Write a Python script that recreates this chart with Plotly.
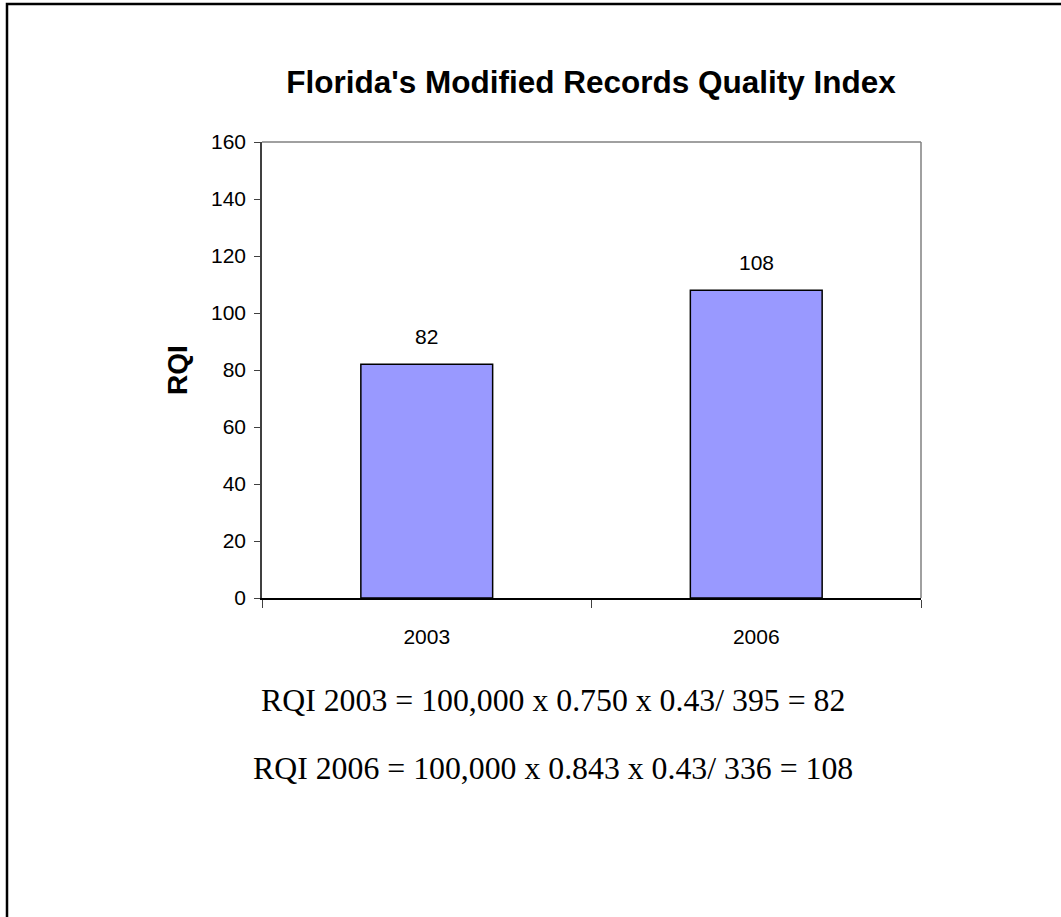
import plotly.graph_objects as go

years = ["2003", "2006"]
rqi = [82, 108]
y_ticks = [0, 20, 40, 60, 80, 100, 120, 140, 160]
formulas = [
    "RQI 2003 = 100,000 x 0.750 x 0.43/ 395 = 82",
    "RQI 2006 = 100,000 x 0.843 x 0.43/ 336 = 108",
]
title_text = "Florida's Modified Records Quality Index"
y_title = "RQI"

W, H = 1061, 917
L, R, T, B = 262, 921, 142, 598

def px_x(p):
    return (p - L) / (R - L)

def px_y(p):
    return (B - p) / (B - T)

fig = go.Figure()
fig.add_trace(go.Bar(
    x=years, y=rqi,
    marker=dict(color="#9999FF", line=dict(color="black", width=1.5)),
    width=0.4, showlegend=False, hoverinfo="skip",
))

for i, v in enumerate(rqi):
    fig.add_annotation(x=i, y=v, text=str(v), showarrow=False,
                       yanchor="bottom", yshift=14,
                       font=dict(family="Liberation Sans", size=21, color="black"))

for i, f in enumerate(formulas):
    fig.add_annotation(xref="paper", yref="paper", x=px_x(553), y=px_y(700 + 68 * i),
                       text=f, showarrow=False, xanchor="center", yanchor="middle",
                       font=dict(family="Liberation Serif", size=31.8, color="black"))

fig.add_annotation(xref="paper", yref="paper", x=px_x(177), y=px_y(370),
                   text="<b>%s</b>" % y_title, textangle=-90, showarrow=False,
                   xanchor="center", yanchor="middle",
                   font=dict(family="Liberation Sans", size=28, color="black"))

# plot-area top and right border (gray)
fig.add_shape(type="line", xref="paper", yref="paper", x0=0, x1=1, y0=1, y1=1,
              line=dict(color="#808080", width=1.5))
fig.add_shape(type="line", xref="paper", yref="paper", x0=1, x1=1, y0=0, y1=1,
              line=dict(color="#808080", width=1.5))

# outer frame (top and left visible)
fig.add_shape(type="rect", xref="paper", yref="paper",
              x0=px_x(7), x1=px_x(1075), y0=px_y(4), y1=px_y(935),
              line=dict(color="black", width=2.5), fillcolor="rgba(0,0,0,0)")

fig.update_layout(
    width=W, height=H,
    margin=dict(l=L, r=W - R, t=T, b=H - B, pad=0),
    paper_bgcolor="white", plot_bgcolor="white",
    title=dict(text="<b>%s</b>" % title_text, x=591 / W, xanchor="center",
               y=1 - 82 / H, yanchor="middle", yref="container",
               font=dict(family="Liberation Sans", size=31.5, color="black")),
    xaxis=dict(
        type="category", range=[-0.5, 1.5],
        showline=True, linecolor="black", linewidth=1.5,
        ticks="outside", ticklen=8, tickcolor="#404040", tickwidth=1,
        tickson="boundaries", showgrid=False, zeroline=False,
        tickfont=dict(family="Liberation Sans", size=21, color="black"),
        ticklabelstandoff=19,
    ),
    yaxis=dict(
        range=[0, 160], tickmode="array", tickvals=y_ticks,
        showline=True, linecolor="#404040", linewidth=1.5,
        ticks="outside", ticklen=6, tickcolor="#404040", tickwidth=1,
        showgrid=False, zeroline=False,
        tickfont=dict(family="Liberation Sans", size=21, color="black"),
        ticklabelstandoff=4,
    ),
    bargap=0.6,
)

fig.write_html("out.html", config={"displayModeBar": False},
               post_script="document.body.style.margin='0';document.body.style.overflow='hidden';")
